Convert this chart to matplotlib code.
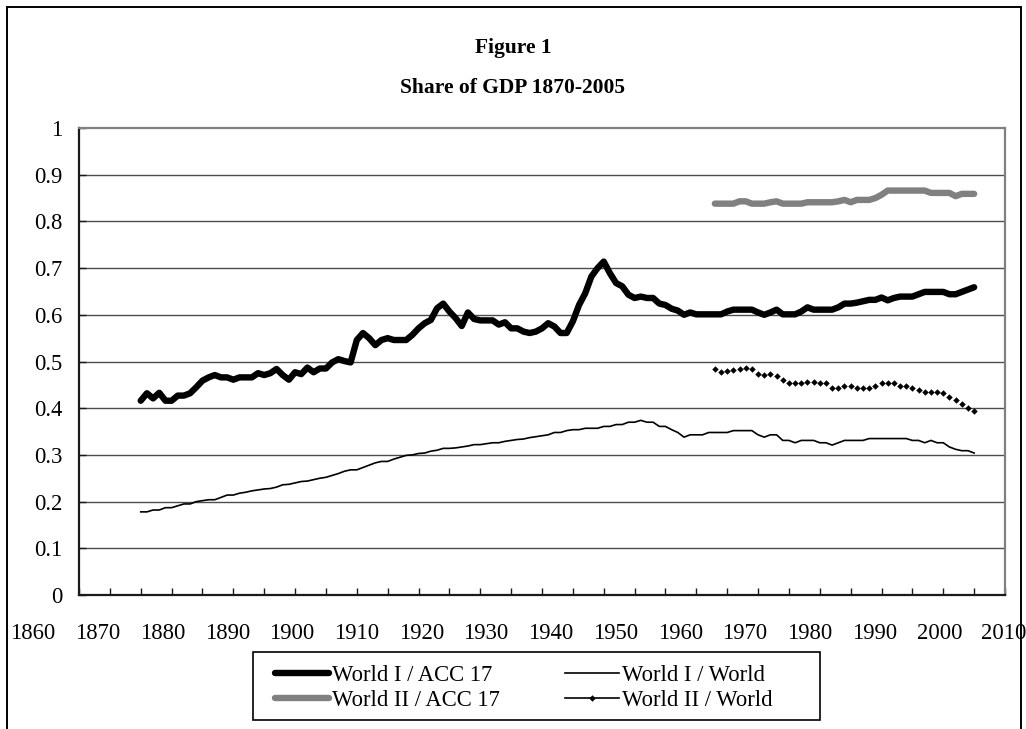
import matplotlib
matplotlib.use("Agg")
import matplotlib.pyplot as plt
from matplotlib.lines import Line2D
from matplotlib.patches import Rectangle
import numpy as np

plt.rcParams['font.family'] = ['Liberation Serif', 'DejaVu Serif']

# ---------------- data ----------------
years_w1 = list(range(1870, 2006))
world1_acc17 = [
    0.416, 0.432, 0.421, 0.433, 0.416, 0.416, 0.427, 0.427, 0.432, 0.445,   # 1870-1879
    0.459, 0.466, 0.471, 0.466, 0.466, 0.461, 0.466, 0.466, 0.466, 0.475,   # 1880-1889
    0.471, 0.475, 0.484, 0.471, 0.461, 0.477, 0.473, 0.487, 0.477, 0.485,   # 1890-1899
    0.485, 0.498, 0.505, 0.501, 0.498, 0.546, 0.561, 0.550, 0.535, 0.546,   # 1900-1909
    0.550, 0.546, 0.546, 0.546, 0.557, 0.571, 0.582, 0.589, 0.614, 0.624,   # 1910-1919
    0.607, 0.593, 0.576, 0.605, 0.591, 0.588, 0.588, 0.588, 0.579, 0.584,   # 1920-1929
    0.571, 0.571, 0.564, 0.561, 0.564, 0.571, 0.582, 0.575, 0.561, 0.561,   # 1930-1939
    0.586, 0.621, 0.646, 0.682, 0.700, 0.714, 0.689, 0.668, 0.661, 0.643,   # 1940-1949
    0.636, 0.639, 0.636, 0.636, 0.624, 0.621, 0.613, 0.609, 0.600, 0.605,   # 1950-1959
    0.601, 0.601, 0.601, 0.601, 0.601, 0.607, 0.611, 0.611, 0.611, 0.611,   # 1960-1969
    0.605, 0.600, 0.605, 0.611, 0.601, 0.601, 0.601, 0.607, 0.616, 0.611,   # 1970-1979
    0.611, 0.611, 0.611, 0.616, 0.624, 0.624, 0.626, 0.629, 0.632, 0.632,   # 1980-1989
    0.637, 0.631, 0.636, 0.639, 0.639, 0.639, 0.644, 0.649, 0.649, 0.649,   # 1990-1999
    0.649, 0.644, 0.644, 0.649, 0.654, 0.659,                               # 2000-2005
]
world1_world = [
    0.178, 0.178, 0.182, 0.182, 0.187, 0.187, 0.191, 0.195, 0.195, 0.200,   # 1870-1879
    0.202, 0.204, 0.204, 0.209, 0.214, 0.214, 0.218, 0.220, 0.223, 0.225,   # 1880-1889
    0.227, 0.228, 0.231, 0.236, 0.237, 0.240, 0.243, 0.244, 0.247, 0.250,   # 1890-1899
    0.252, 0.256, 0.260, 0.265, 0.268, 0.268, 0.273, 0.278, 0.283, 0.286,   # 1900-1909
    0.286, 0.291, 0.295, 0.299, 0.300, 0.303, 0.304, 0.308, 0.310, 0.314,   # 1910-1919
    0.314, 0.315, 0.317, 0.319, 0.322, 0.322, 0.324, 0.326, 0.326, 0.329,   # 1920-1929
    0.331, 0.333, 0.334, 0.337, 0.339, 0.341, 0.343, 0.348, 0.348, 0.352,   # 1930-1939
    0.354, 0.354, 0.357, 0.357, 0.357, 0.361, 0.361, 0.365, 0.365, 0.370,   # 1940-1949
    0.370, 0.374, 0.370, 0.370, 0.361, 0.361, 0.354, 0.348, 0.338, 0.343,   # 1950-1959
    0.343, 0.343, 0.348, 0.348, 0.348, 0.348, 0.352, 0.352, 0.352, 0.352,   # 1960-1969
    0.343, 0.338, 0.343, 0.343, 0.331, 0.331, 0.326, 0.331, 0.331, 0.331,   # 1970-1979
    0.326, 0.326, 0.321, 0.326, 0.331, 0.331, 0.331, 0.331, 0.335, 0.335,   # 1980-1989
    0.335, 0.335, 0.335, 0.335, 0.335, 0.331, 0.331, 0.326, 0.331, 0.326,   # 1990-1999
    0.326, 0.317, 0.312, 0.309, 0.309, 0.304,                               # 2000-2005
]
years_w2 = list(range(1963, 2006))
world2_acc17 = [
    0.838, 0.838, 0.838, 0.838, 0.843, 0.843, 0.838,                        # 1963-1969
    0.838, 0.838, 0.841, 0.843, 0.838, 0.838, 0.838, 0.838, 0.841, 0.841,   # 1970-1979
    0.841, 0.841, 0.841, 0.843, 0.846, 0.841, 0.846, 0.846, 0.846, 0.850,   # 1980-1989
    0.857, 0.866, 0.866, 0.866, 0.866, 0.866, 0.866, 0.866, 0.861, 0.861,   # 1990-1999
    0.861, 0.861, 0.854, 0.859, 0.859, 0.859,                               # 2000-2005
]
world2_world = [
    0.484, 0.478, 0.479, 0.482, 0.484, 0.487, 0.484,                        # 1963-1969
    0.474, 0.471, 0.474, 0.470, 0.461, 0.453, 0.453, 0.453, 0.457, 0.457,   # 1970-1979
    0.453, 0.453, 0.444, 0.444, 0.448, 0.448, 0.444, 0.444, 0.444, 0.448,   # 1980-1989
    0.453, 0.453, 0.453, 0.448, 0.448, 0.444, 0.440, 0.435, 0.435, 0.435,   # 1990-1999
    0.432, 0.423, 0.418, 0.409, 0.400, 0.395,                               # 2000-2005
]
x_tick_labels = [str(y) for y in range(1860, 2011, 10)]
y_ticks = [0, 0.1, 0.2, 0.3, 0.4, 0.5, 0.6, 0.7, 0.8, 0.9, 1]
y_tick_labels = ['0', '0.1', '0.2', '0.3', '0.4', '0.5', '0.6', '0.7', '0.8', '0.9', '1']
series_names = ['World I / ACC 17', 'World II / ACC 17', 'World I / World', 'World II / World']

# ---------------- layout ----------------
W, H = 1026, 729
fig = plt.figure(figsize=(W / 100, H / 100), dpi=100)

def fx(px):
    return px / W

def fy(py):
    return 1 - py / H

FS = 16.3

ax_l, ax_r, ax_t, ax_b = 79, 1005, 128, 595
ax = fig.add_axes([fx(ax_l), fy(ax_b), fx(ax_r - ax_l), (ax_b - ax_t) / H])
ax.set_xlim(1860, 2010)
ax.set_ylim(0, 1)

# gridlines
for v in y_ticks[1:-1]:
    ax.axhline(v, color='#4d4d4d', lw=1.0, zorder=1)

ax.plot(years_w1, world1_acc17, color='black', lw=4.6, solid_joinstyle='round',
        solid_capstyle='round', zorder=4)
ax.plot(years_w2, world2_acc17, color='#808080', lw=4.6, solid_joinstyle='round',
        solid_capstyle='round', zorder=4)
ax.plot(years_w1, world1_world, color='black', lw=1.2, zorder=4)
ax.plot(years_w2, world2_world, color='black', lw=0, marker='D', markersize=3.3,
        markeredgewidth=0, zorder=4)

for s in ['left', 'bottom']:
    ax.spines[s].set_color('#1a1a1a')
    ax.spines[s].set_linewidth(1.6)
for s in ['top', 'right']:
    ax.spines[s].set_color('#808080')
    ax.spines[s].set_linewidth(1.6)

ax.set_xticks(np.arange(1860, 2011, 5))
ax.set_xticklabels([])
ax.tick_params(axis='x', direction='in', length=5, width=1.0, color='#1a1a1a')
ax.set_yticks(y_ticks)
ax.set_yticklabels(y_tick_labels)
ax.tick_params(axis='y', direction='in', length=5, width=1.0, color='#1a1a1a',
               labelsize=FS, pad=12)

# x labels (drawn on their own scale, as in the original)
lab_l, lab_r = 33, 1004
lab_ax = fig.add_axes([fx(lab_l), fy(ax_b), fx(lab_r - lab_l), 0.001])
lab_ax.set_xlim(1860, 2010)
lab_ax.set_xticks(range(1860, 2011, 10))
lab_ax.set_xticklabels(x_tick_labels)
lab_ax.tick_params(axis='x', length=0, labelsize=FS, pad=20)
lab_ax.set_yticks([])
for s in lab_ax.spines.values():
    s.set_visible(False)
lab_ax.patch.set_visible(False)

# titles
fig.text(0.5, fy(48), 'Figure 1', ha='center', va='center', fontsize=15.5, fontweight='bold')
fig.text(0.5, fy(88), 'Share of GDP 1870-2005', ha='center', va='center', fontsize=15.5,
         fontweight='bold')

# outer frame
fig.patches.append(Rectangle((fx(7), fy(760)), fx(1021 - 7), (760 - 7) / H,
                             transform=fig.transFigure, fill=False, edgecolor='black',
                             lw=1.4))

# legend
handles = [
    Line2D([], [], color='black', lw=4.6, solid_capstyle='round'),
    Line2D([], [], color='#808080', lw=4.6, solid_capstyle='round'),
    Line2D([], [], color='black', lw=1.2),
    Line2D([], [], color='black', lw=1.2, marker='D', markersize=3.3, markeredgewidth=0,
           markevery=[1]),
]
for h in handles[3:]:
    h.set_xdata([0, 0.5, 1])
leg = fig.legend(handles, series_names, ncol=2, loc='center left',
                 bbox_to_anchor=(fx(275), fy(688)), fontsize=FS, frameon=False,
                 handlelength=2.4, handletextpad=0.1,
                 columnspacing=2.9, borderpad=0, labelspacing=0.16, borderaxespad=0)
fig.patches.append(Rectangle((fx(253), fy(720)), fx(820 - 253), (720 - 652) / H,
                             transform=fig.transFigure, fill=False, edgecolor='black',
                             lw=1.2))

fig.savefig('out.png', dpi=100)
